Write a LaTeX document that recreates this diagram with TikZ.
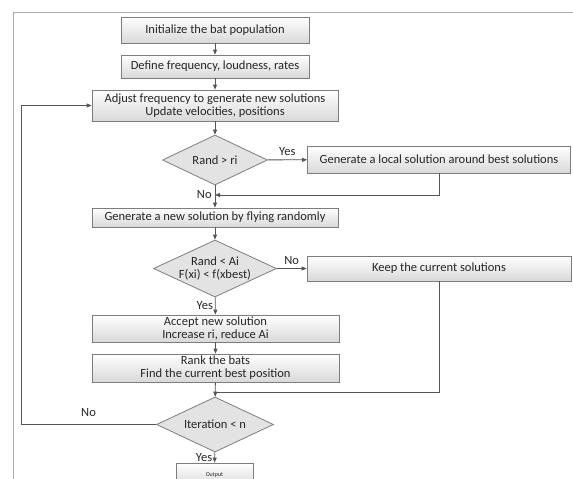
\documentclass[tikz,border=0pt]{standalone}
\usepackage{fontspec}
\setmainfont{Carlito}
\usetikzlibrary{shapes.geometric,arrows.meta,shadows}

\definecolor{linegray}{RGB}{85,85,85}
\definecolor{boxgray}{RGB}{125,125,125}
\definecolor{framegray}{RGB}{165,172,182}

\begin{document}
\begin{tikzpicture}[x=1pt,y=-1pt,font=\fontsize{12.5}{13}\selectfont,
    proc_box/.style={draw=boxgray,line width=0.8pt,top color=white,bottom color=gray!30,text=black!85,inner sep=0,align=center,drop shadow={opacity=0.25,shadow xshift=0.8pt,shadow yshift=-0.8pt}},
    cond_box/.style={shape=diamond,draw=boxgray,line width=0.8pt,fill=gray!22,text=black!85,inner sep=0,aspect=2.15,align=center},
    flow/.style={draw=linegray,line width=0.8pt,-{Triangle[length=5pt,width=4pt]}},
    flow_line/.style={draw=linegray,line width=0.8pt},
    tag/.style={inner sep=0,text=black!85}]
    \useasboundingbox (0,0) rectangle (573,479);
    \clip (0,0) rectangle (573,479);
    \draw[framegray,line width=0.8pt] (13,479) -- (13,12) -- (573,12);

    \node[proc_box,minimum width=188,minimum height=26] (init_box) at (215,30) {Initialize the bat population};
    \node[proc_box,minimum width=188,minimum height=23] (define_box) at (215,66.5) {Define frequency, loudness, rates};
    \node[proc_box,minimum width=246,minimum height=31] (adjust_box) at (215,105.5) {Adjust frequency to generate new solutions\\Update velocities, positions};
    \node[cond_box,minimum width=105,minimum height=50] (rand_ri) at (215,160) {Rand > ri};
    \node[proc_box,minimum width=263,minimum height=27] (local_box) at (439,159.5) {Generate a local solution around best solutions};
    \node[proc_box,minimum width=246,minimum height=19] (new_box) at (215,217.5) {Generate a new solution by flying randomly};
    \node[cond_box,minimum width=123,minimum height=57] (rand_ai) at (215,268.5) {Rand < Ai\\F(xi) < f(xbest)};
    \node[proc_box,minimum width=264,minimum height=25] (keep_box) at (439,268.5) {Keep the current solutions};
    \node[proc_box,minimum width=247,minimum height=27] (accept_box) at (215.5,328.5) {Accept new solution\\Increase ri, reduce Ai};
    \node[proc_box,minimum width=247,minimum height=28] (rank_box) at (215.5,368) {Rank the bats\\Find the current best position};
    \node[cond_box,minimum width=117,minimum height=55] (iter_n) at (215,424.5) {Iteration < n};
    \node[proc_box,minimum width=77,minimum height=24,font=\fontsize{6}{7}\selectfont] (output_box) at (214.5,475) {Output};

    \coordinate (merge_a) at (215,195);
    \coordinate (merge_b) at (215,392);
    \coordinate (loop_corner) at (21,424.5);

    \draw[flow] (init_box) -- (define_box);
    \draw[flow] (define_box) -- (adjust_box);
    \draw[flow] (adjust_box) -- (rand_ri);
    \draw[flow] (rand_ri) -- node[tag,above=4pt] {Yes} (local_box);
    \draw[flow] (rand_ri) -- (new_box);
    \draw[flow] (local_box.south) |- node[tag,pos=1,left=3pt] {No} (merge_a);
    \draw[flow] (new_box) -- (rand_ai);
    \draw[flow] (rand_ai) -- node[tag,above=4pt] {No} (keep_box);
    \draw[flow] (rand_ai) -- node[tag,left=2pt] {Yes} (accept_box);
    \draw[flow] (accept_box) -- (rank_box);
    \draw[flow] (rank_box) -- (iter_n);
    \draw[flow_line] (keep_box.south) |- (merge_b);
    \draw[flow] (iter_n.west) -- node[tag,above=8pt] {No} (loop_corner) |- (adjust_box.west);
    \draw[flow] (iter_n) -- node[tag,left=2pt] {Yes} (output_box);
\end{tikzpicture}
\end{document}
